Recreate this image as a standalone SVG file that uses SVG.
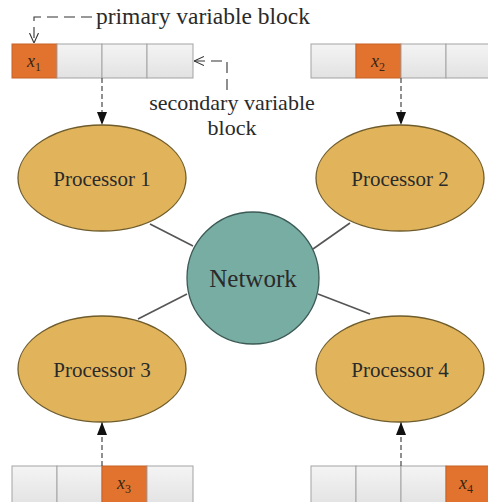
<svg xmlns="http://www.w3.org/2000/svg" width="488" height="502" viewBox="0 0 488 502">
  <defs>
    <linearGradient id="cellGrad" x1="0" y1="0" x2="0" y2="1">
      <stop offset="0" stop-color="#f4f4f4"/>
      <stop offset="1" stop-color="#e2e2e2"/>
    </linearGradient>
    <marker id="solidHead" viewBox="0 0 13 10" refX="13" refY="5" markerWidth="13" markerHeight="10" markerUnits="userSpaceOnUse" orient="auto">
      <path d="M0,0 L13,5 L0,10 Z" fill="#111"/>
    </marker>
    <marker id="openHead" viewBox="0 0 10 10" refX="10" refY="5" markerWidth="10" markerHeight="10" markerUnits="userSpaceOnUse" orient="auto">
      <path d="M0,0.5 L10,5 L0,9.5" fill="none" stroke="#333" stroke-width="1.1"/>
    </marker>
  </defs>
  <style>
    .cell { fill: url(#cellGrad); stroke: #a3a3a3; stroke-width: 1; }
    .hot { fill: #e1732f; stroke: #c86024; stroke-width: 1; }
    .proc { fill: #e1b45b; stroke: #6f5c2c; stroke-width: 1.3; }
    .net { fill: #78ada4; stroke: #3c5a55; stroke-width: 1.3; }
    .link { stroke: #555; stroke-width: 1.6; fill: none; }
    .feed { stroke: #555; stroke-width: 1.3; stroke-dasharray: 5 3; fill: none; }
    .note { stroke: #333; stroke-width: 1.1; stroke-dasharray: 11 6; fill: none; }
    .lbl { font-family: "Liberation Serif", "Times New Roman", serif; fill: #2a2a2a; }
    .var { font-family: "Liberation Serif", "Times New Roman", serif; font-style: italic; fill: #3a2410; font-size: 18px; }
  </style>

  <!-- variable blocks -->
  <g id="block1">
    <rect class="hot" x="12" y="44" width="45" height="34"/>
    <rect class="cell" x="57" y="44" width="45" height="34"/>
    <rect class="cell" x="102" y="44" width="45" height="34"/>
    <rect class="cell" x="147" y="44" width="46" height="34"/>
    <text class="var" x="27" y="67">x<tspan font-size="12" font-style="normal" dy="4">1</tspan></text>
  </g>
  <g id="block2">
    <rect class="cell" x="311" y="44" width="45" height="34"/>
    <rect class="hot" x="356" y="44" width="45" height="34"/>
    <rect class="cell" x="401" y="44" width="45" height="34"/>
    <rect class="cell" x="446" y="44" width="46" height="34"/>
    <text class="var" x="371" y="67">x<tspan font-size="12" font-style="normal" dy="4">2</tspan></text>
  </g>
  <g id="block3">
    <rect class="cell" x="12" y="466" width="45" height="40"/>
    <rect class="cell" x="57" y="466" width="45" height="40"/>
    <rect class="hot" x="102" y="466" width="45" height="40"/>
    <rect class="cell" x="147" y="466" width="46" height="40"/>
    <text class="var" x="117" y="489">x<tspan font-size="12" font-style="normal" dy="4">3</tspan></text>
  </g>
  <g id="block4">
    <rect class="cell" x="311" y="466" width="45" height="40"/>
    <rect class="cell" x="356" y="466" width="45" height="40"/>
    <rect class="cell" x="401" y="466" width="45" height="40"/>
    <rect class="hot" x="446" y="466" width="46" height="40"/>
    <text class="var" x="459" y="489">x<tspan font-size="12" font-style="normal" dy="4">4</tspan></text>
  </g>

  <!-- connectors -->
  <g id="connectors">
    <line class="link" x1="150" y1="224" x2="193" y2="246"/>
    <line class="link" x1="350" y1="223" x2="313" y2="249"/>
    <line class="link" x1="138" y1="319" x2="187" y2="294"/>
    <line class="link" x1="318" y1="294" x2="370" y2="314"/>
    <line class="feed" x1="102" y1="78" x2="102" y2="125" marker-end="url(#solidHead)"/>
    <line class="feed" x1="401" y1="78" x2="401" y2="125" marker-end="url(#solidHead)"/>
    <line class="feed" x1="102" y1="466" x2="102" y2="422" marker-end="url(#solidHead)"/>
    <line class="feed" x1="401" y1="466" x2="401" y2="422" marker-end="url(#solidHead)"/>
    <polyline class="note" points="92,17 34,17 34,43" marker-end="url(#openHead)"/>
    <polyline class="note" points="227,90 227,61 194,61" marker-end="url(#openHead)"/>
  </g>

  <!-- processors -->
  <g id="processor1">
    <ellipse class="proc" cx="102" cy="178" rx="84" ry="53"/>
    <text class="lbl" x="102" y="186" font-size="21" text-anchor="middle">Processor 1</text>
  </g>
  <g id="processor2">
    <ellipse class="proc" cx="400" cy="178" rx="84" ry="53"/>
    <text class="lbl" x="400" y="186" font-size="21" text-anchor="middle">Processor 2</text>
  </g>
  <g id="processor3">
    <ellipse class="proc" cx="102" cy="369" rx="84" ry="53"/>
    <text class="lbl" x="102" y="377" font-size="21" text-anchor="middle">Processor 3</text>
  </g>
  <g id="processor4">
    <ellipse class="proc" cx="400" cy="369" rx="84" ry="53"/>
    <text class="lbl" x="400" y="377" font-size="21" text-anchor="middle">Processor 4</text>
  </g>

  <!-- network hub -->
  <g id="network">
    <circle class="net" cx="253" cy="278" r="66"/>
    <text class="lbl" x="253" y="287" font-size="25" text-anchor="middle">Network</text>
  </g>

  <!-- annotations -->
  <g id="annotations">
    <text class="lbl" x="96" y="24" font-size="23.5">primary variable block</text>
    <text class="lbl" x="232" y="110" font-size="22" text-anchor="middle">secondary variable</text>
    <text class="lbl" x="232" y="135" font-size="22" text-anchor="middle">block</text>
  </g>
</svg>
